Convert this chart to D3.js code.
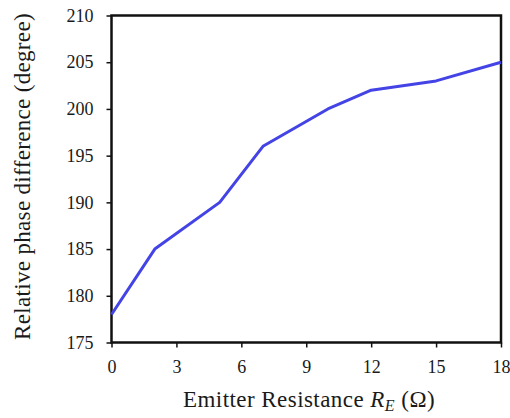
<!DOCTYPE html>
<html><head><meta charset="utf-8">
<script src="https://cdn.jsdelivr.net/npm/d3@7"></script>
<style>body{margin:0;background:#fff}svg{display:block}</style>
</head><body><svg id="c" width="510" height="418"></svg>
<script>
const resistance = [0, 2, 5, 7, 10, 12, 15, 18];
const phase = [178, 185, 190, 196, 200, 202, 203, 205];
const xTicks = [0, 3, 6, 9, 12, 15, 18];
const yTicks = [175, 180, 185, 190, 195, 200, 205, 210];

const FONT = "Liberation Serif";
const svg = d3.select("#c");
const L = 111.5, R = 501, T = 15.5, B = 342.5;
const x = d3.scaleLinear().domain([0, 18]).range([L, R]);
const y = d3.scaleLinear().domain([175, 210]).range([B, T]);

const gx = svg.append("g").attr("transform", `translate(0,${B})`)
  .call(d3.axisBottom(x).tickValues(xTicks).tickSize(5).tickPadding(13));
const gy = svg.append("g").attr("transform", `translate(${L},0)`)
  .call(d3.axisLeft(y).tickValues(yTicks).tickSize(5).tickPadding(13));
[gx, gy].forEach(g => {
  g.attr("font-family", FONT).attr("font-size", 18);
  g.select(".domain").remove();
  g.selectAll("line").attr("stroke", "#111").attr("stroke-width", 1.5);
  g.selectAll("text").attr("fill", "#1a1a1a");
});
gx.selectAll("text").attr("dy", "0.71em");

svg.append("rect").attr("x", L).attr("y", T).attr("width", R - L).attr("height", B - T)
  .attr("fill", "none").attr("stroke", "#111").attr("stroke-width", 2.5);

const line = d3.line().x((d, i) => x(resistance[i])).y(d => y(d));
svg.append("path").datum(phase).attr("d", line)
  .attr("fill", "none").attr("stroke", "#4343e6").attr("stroke-width", 3).attr("stroke-linejoin", "round");

function fitWidth(sel, target) {
  const n = sel.text().length;
  const w = sel.node().getBBox().width;
  sel.attr("letter-spacing", Math.max(0, (target - w) / n).toFixed(2));
}

const xl = svg.append("text").attr("x", 309).attr("y", 407).attr("text-anchor", "middle")
  .attr("font-family", FONT).attr("font-size", 23).attr("fill", "#1a1a1a");
xl.append("tspan").text("Emitter Resistance ");
xl.append("tspan").attr("font-style", "italic").text("R");
xl.append("tspan").attr("font-style", "italic").attr("dy", 4).attr("font-size", 16).text("E");
xl.append("tspan").attr("dy", -4).text(" (Ω)");
fitWidth(xl, 252);

const yl = svg.append("text").attr("transform", `translate(30,176.5) rotate(-90)`)
  .attr("text-anchor", "middle").attr("font-family", FONT).attr("font-size", 23).attr("fill", "#1a1a1a")
  .text("Relative phase difference (degree)");
fitWidth(yl, 327);
</script></body></html>
